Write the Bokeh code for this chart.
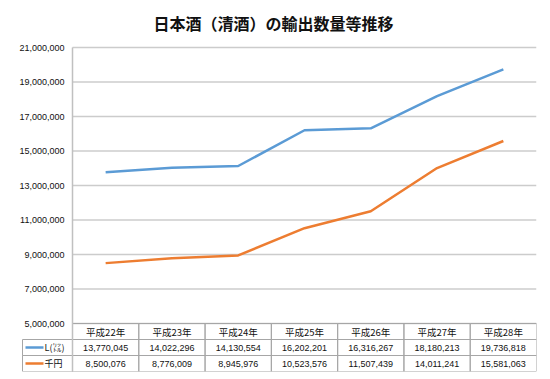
from bokeh.plotting import figure
from bokeh.models import Range1d, FixedTicker, NumeralTickFormatter
from bokeh.core.properties import value
from bokeh.embed import file_html
from bokeh.resources import INLINE

# ---- data ----
years = ["平成22年", "平成23年", "平成24年", "平成25年", "平成26年", "平成27年", "平成28年"]
litres = [13770045, 14022296, 14130554, 16202201, 16316267, 18180213, 19736818]
yen_k = [8500076, 8776009, 8945976, 10523576, 11507439, 14011241, 15581063]
series_names = ["L(㍑)", "千円"]
y_ticks = [5000000, 7000000, 9000000, 11000000, 13000000, 15000000,
           17000000, 19000000, 21000000]
title_text = "日本酒（清酒）の輸出数量等推移"

# ---- styling / layout ----
BLUE = "#5B9BD5"
ORANGE = "#ED7D31"
GRID = "#cccccc"
TBL = "#a6a6a6"
TXT = "#111111"
NUM_FONT = "Liberation Sans"
JP_FONT = "Noto Sans CJK JP"

W, H = 548, 377
PAD_L = 12        # blank space left of the table's legend column (inside frame)
LEG_PX = 50       # width of the legend column of the data table
PAD_T = 9         # blank space above the top gridline (inside frame)
ML, MR, MT, MB = 10, 12, 38, 6
frame_w = W - ML - MR
frame_h = H - MT - MB
row_px = 16
n_rows = 3
chart_px = frame_h - n_rows * row_px - PAD_T
ymin, ymax = y_ticks[0], y_ticks[-1]
per_px = (ymax - ymin) / chart_px
y_start = ymin - n_rows * row_px * per_px
y_end = ymax + PAD_T * per_px

n = len(years)
xs = list(range(n))
col_px = (frame_w - LEG_PX - PAD_L) / n
def px2x(dx):  # horizontal pixels -> data units
    return dx / col_px
leg_left = -0.5 - px2x(LEG_PX)

p = figure(width=W, height=H, output_backend="svg", toolbar_location=None,
           x_range=Range1d(leg_left - px2x(PAD_L), n - 0.5),
           y_range=Range1d(y_start, y_end),
           x_axis_location=None, min_border_left=ML, min_border_right=MR,
           min_border_top=MT, min_border_bottom=MB)
p.extra_y_ranges = {"table": Range1d(0, frame_h / row_px)}
p.outline_line_color = None
p.background_fill_color = "white"
p.border_fill_color = "white"
p.styles = {"outline": "1px solid #c4c4c4", "outline-offset": "-2px"}

# title
p.title.text = title_text
p.title.align = "left"
p.title.offset = 143
p.title.standoff = 8
p.title.text_font = JP_FONT
p.title.text_font_size = "16px"
p.title.text_font_style = "bold"
p.title.text_color = "#111111"

# y axis, placed at the left edge of the plot area
ya = p.yaxis[0]
ya.fixed_location = -0.5
ya.bounds = (y_start, ymax)
ya.ticker = FixedTicker(ticks=y_ticks)
ya.formatter = NumeralTickFormatter(format="0,0")
ya.major_tick_line_color = None
ya.minor_tick_line_color = None
ya.major_tick_out = 0
ya.major_tick_in = 0
ya.major_label_standoff = 8
ya.axis_line_color = "#c0c0c0"
ya.axis_line_width = 1.5
ya.major_label_text_font = NUM_FONT
ya.major_label_text_font_size = "9px"
ya.major_label_text_color = TXT

p.xgrid.visible = False
p.ygrid.visible = False
# horizontal gridlines across the plot area only
p.segment(x0=[-0.5] * len(y_ticks), x1=[n - 0.5] * len(y_ticks), y0=y_ticks, y1=y_ticks,
          line_color=GRID, line_width=1.5)

# lines
p.line(xs, litres, line_color=BLUE, line_width=2.5)
p.line(xs, yen_k, line_color=ORANGE, line_width=2.5)

# data table
row_y = {"head": 2.5, "litres": 1.5, "yen": 0.5}
for key in ("head", "litres", "yen"):
    p.rect(x=xs, y=[row_y[key]] * n, width=1, height=1, fill_color=None,
           line_color=TBL, line_width=1, y_range_name="table")

p.text(x=xs, y=[row_y["head"]] * n, text=years, text_align="center",
       text_baseline="middle", text_font=value(JP_FONT), text_font_size="9.5px",
       text_color=TXT, y_range_name="table")
p.text(x=xs, y=[row_y["litres"]] * n, text=[f"{v:,}" for v in litres],
       text_align="center", text_baseline="middle", text_font=value(NUM_FONT),
       text_font_size="9px", text_color=TXT, y_range_name="table")
p.text(x=xs, y=[row_y["yen"]] * n, text=[f"{v:,}" for v in yen_k],
       text_align="center", text_baseline="middle", text_font=value(NUM_FONT),
       text_font_size="9px", text_color=TXT, y_range_name="table")

# legend column of the table
leg_rows = [row_y["litres"], row_y["yen"]]
leg_colors = [BLUE, ORANGE]
p.rect(x=[(leg_left - 0.5) / 2] * 2, y=leg_rows, width=px2x(LEG_PX), height=1,
       fill_color=None, line_color=TBL, line_width=1, y_range_name="table")
p.segment(x0=[leg_left + px2x(3)] * 2, x1=[leg_left + px2x(21)] * 2,
          y0=leg_rows, y1=leg_rows, line_color=leg_colors, line_width=2.5,
          y_range_name="table")
p.text(x=[leg_left + px2x(22)] * 2, y=leg_rows, text=series_names,
       text_baseline="middle", text_font=value(JP_FONT), text_font_size="9px",
       text_color=TXT, y_range_name="table")

open("out.html", "w").write(file_html(p, INLINE))
